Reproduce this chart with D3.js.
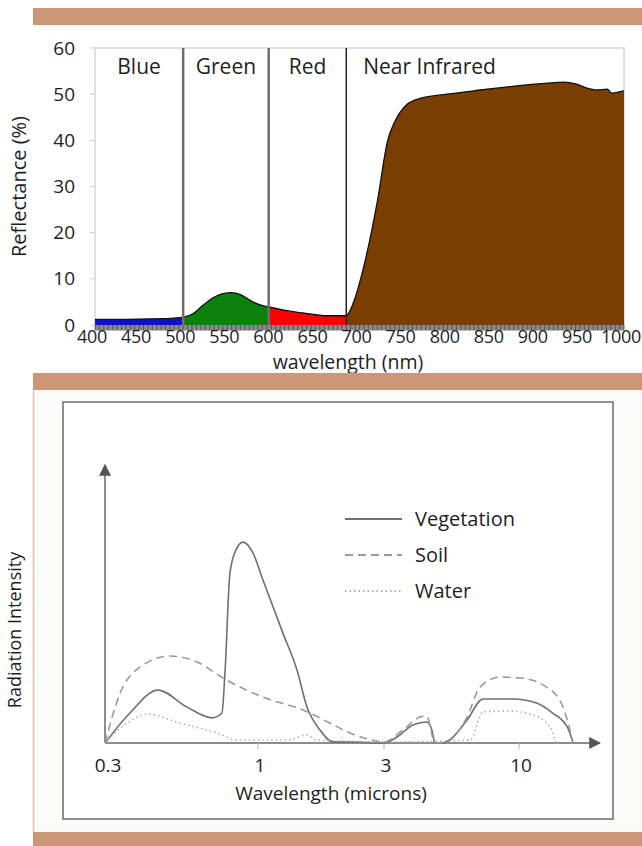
<!DOCTYPE html>
<html><head><meta charset="utf-8">
<script src="https://cdn.jsdelivr.net/npm/d3@7"></script>
<style>html,body{margin:0;padding:0;background:#fff;}svg{display:block;}</style>
</head><body>
<script>
// ---------- DATA ----------
// Top chart: vegetation reflectance spectrum [wavelength nm, reflectance %]
const spectrum = [
  [400,1.2],[430,1.2],[460,1.3],[490,1.5],[500,1.7],
  [511,2.4],[522,4.2],[534,5.9],[545,6.8],[555,7.0],[565,6.6],[579,5.0],[590,4.2],[597,3.9],
  [621,3.0],[636,2.6],[663,2.0],[685,2.0],
  [693,4.8],[704,12],[720,26.5],[732,40],[740,44],[754,47.8],[769,49.1],[799,50],
  [837,50.9],[874,51.7],[913,52.4],[931,52.6],[946,52.2],[958,51.3],[969,50.9],
  [981,51.1],[986,50.2],[992,50.4],[1000,50.7]
];
const bandNames = ["Blue","Green","Red","Near Infrared"];
const bandEdges = [400,500,597,685,1000];
const bandColors = ["#1010c8","#0b800b","#ff0000","#7a3e00"];
const yTicksTop = [0,10,20,30,40,50,60];
const xTicksTop = [400,450,500,550,600,650,700,750,800,850,900,950,1000];

// Bottom chart: radiation intensity [wavelength microns, relative intensity]
const vegetation = [
  [0.3,0],[0.365,11.1],[0.455,19.6],[0.572,13.3],[0.697,9.3],[0.753,11.1],[0.771,25.9],
  [0.802,63],[0.841,71.5],[0.889,74.4],[0.961,70.4],[1.044,60.4],[1.243,40.7],[1.405,27],
  [1.533,13.3],[1.717,4.8],[1.923,0.4],[2.23,0.4],[3.0,0],[3.37,2.2],[3.88,6.7],[4.40,7.8],
  [4.60,4.8],[4.73,0],[5.03,0],[5.55,2.2],[6.29,8.5],[7.26,16.3],[9.48,16.3],[11.7,14.8],
  [13.5,11.1],[15.4,5.9],[16.2,0]
];
const soil = [
  [0.3,0],[0.338,18.5],[0.395,28.1],[0.5,32.2],[0.619,30],[0.759,24.1],[1.044,17],
  [1.48,12.2],[1.87,7.4],[2.23,3.7],[2.6,1.5],[3.0,0.4],[3.55,4.8],[4.14,9.6],[4.39,10],
  [4.73,0],[5.1,0],[6.29,9.6],[7.06,20.7],[8.44,24.4],[10.1,24.1],[12.8,20.7],[14.8,13.3],[16.2,0]
];
const water = [
  [0.3,0],[0.357,7.4],[0.421,10.7],[0.541,7.4],[0.724,3.7],[0.848,1.1],[1.3,1.1],
  [1.53,3],[1.67,1.1],[3.0,0.4],[6.46,1.1],[7.26,11.5],[8.99,11.9],[11.3,10.4],[13.2,5.9],[13.9,0]
];
const seriesNames = ["Vegetation","Soil","Water"];
const xTicksBottom = [0.3,1,3,10];

// ---------- DRAW ----------
const W = 642, H = 846;
const svg = d3.select("body").append("svg").attr("width",W).attr("height",H);
const FONT = "'Open Sans', 'DejaVu Sans', sans-serif";
const TXT = "#1e1e1e";
const barColor = "#cc9677";

// top brown bar
svg.append("rect").attr("x",33).attr("y",8).attr("width",W-33).attr("height",17).attr("fill",barColor);

// ---- top chart ----
const x1 = d3.scaleLinear().domain([400,1000]).range([95,624]);
const y1 = d3.scaleLinear().domain([0,60]).range([325,48]);

svg.append("rect").attr("x",x1(400)).attr("y",y1(60)).attr("width",x1(1000)-x1(400))
  .attr("height",y1(0)-y1(60)).attr("fill","none").attr("stroke","#d8d8d8").attr("stroke-width",1.5);

yTicksTop.forEach(t=>{
  svg.append("line").attr("x1",x1(400)-5).attr("x2",x1(400)).attr("y1",y1(t)).attr("y2",y1(t))
    .attr("stroke","#ccc");
  svg.append("text").attr("x",x1(400)-20).attr("y",y1(t)).attr("dy","0.35em").attr("text-anchor","end")
    .attr("font-family",FONT).attr("font-size",19).attr("fill",TXT).text(t);
});

const area1 = d3.area().x(d=>x1(d[0])).y0(y1(0)).y1(d=>y1(d[1])).curve(d3.curveMonotoneX);
for(let i=0;i<4;i++){
  const pts = spectrum.filter(d=>d[0]>=bandEdges[i] && d[0]<=bandEdges[i+1]);
  svg.append("path").datum(pts).attr("d",area1).attr("fill",bandColors[i]);
}
svg.append("path").datum(spectrum)
  .attr("d",d3.line().x(d=>x1(d[0])).y(d=>y1(d[1])).curve(d3.curveMonotoneX))
  .attr("fill","none").attr("stroke","#111").attr("stroke-width",1.3);

[1,2,3].forEach(i=>{
  svg.append("line").attr("x1",x1(bandEdges[i])).attr("x2",x1(bandEdges[i]))
    .attr("y1",y1(60)).attr("y2",y1(0))
    .attr("stroke", i===3 ? "#222" : "#6e6e6e").attr("stroke-width", i===3 ? 1.5 : 2.5);
});

bandNames.forEach((n,i)=>{
  const last = i===3;
  svg.append("text")
    .attr("x", last ? x1(bandEdges[i])+17 : x1((bandEdges[i]+bandEdges[i+1])/2))
    .attr("y", 74).attr("text-anchor", last ? "start" : "middle")
    .attr("font-family",FONT).attr("font-size",21).attr("fill",TXT).text(n);
});

svg.append("rect").attr("x",x1(400)).attr("y",y1(0)).attr("width",x1(1000)-x1(400)).attr("height",5)
  .attr("fill","#8a8a8a");
d3.range(400,1001,5).forEach(v=>{
  svg.append("line").attr("x1",x1(v)).attr("x2",x1(v)).attr("y1",y1(0)).attr("y2",y1(0)+5)
    .attr("stroke","#444").attr("stroke-width",0.8);
});
svg.append("line").attr("x1",x1(400)).attr("x2",x1(1000)).attr("y1",y1(0)+5.5).attr("y2",y1(0)+5.5)
  .attr("stroke","#bbb").attr("stroke-width",1);

xTicksTop.forEach(t=>{
  svg.append("text").attr("x",x1(t)-3).attr("y",343).attr("text-anchor","middle")
    .attr("font-family",FONT).attr("font-size",18).attr("letter-spacing","-0.3").attr("fill",TXT).text(t);
});
svg.append("text").attr("x",x1(687)).attr("y",369).attr("text-anchor","middle")
  .attr("font-family",FONT).attr("font-size",19.5).attr("fill",TXT).text("wavelength (nm)");
svg.append("text").attr("transform",`translate(26,${(y1(0)+y1(60))/2}) rotate(-90)`)
  .attr("text-anchor","middle").attr("font-family",FONT).attr("font-size",20).attr("fill",TXT)
  .text("Reflectance (%)");

// ---- bottom panel ----
const b2top = 373, b2bot = 390;
svg.append("rect").attr("x",33).attr("y",b2bot).attr("width",W-33).attr("height",832-b2bot).attr("fill","#fbfbfa");
svg.append("rect").attr("x",33).attr("y",b2top).attr("width",W-33).attr("height",b2bot-b2top).attr("fill",barColor);
svg.append("rect").attr("x",33).attr("y",832).attr("width",W-33).attr("height",14).attr("fill",barColor);
svg.append("line").attr("x1",33.5).attr("x2",33.5).attr("y1",b2bot).attr("y2",832).attr("stroke","#e2bfa8").attr("stroke-width",1.5);
svg.append("line").attr("x1",640).attr("x2",640).attr("y1",b2bot).attr("y2",832).attr("stroke","#eee").attr("stroke-width",1);
svg.append("rect").attr("x",63).attr("y",402).attr("width",550).attr("height",417)
  .attr("fill","#fff").attr("stroke","#8f8f8f").attr("stroke-width",2);

const x2 = d3.scaleLinear().domain([Math.log10(0.3),0,Math.log10(3),1]).range([105,258,384,519]);
const X2 = v => x2(Math.log10(v));
const y2 = d3.scaleLinear().domain([0,100]).range([743,473]);

const defs = svg.append("defs");
defs.append("marker").attr("id","arr").attr("viewBox","0 0 10 10").attr("refX",9).attr("refY",5)
  .attr("markerWidth",8).attr("markerHeight",8).attr("orient","auto-start-reverse")
  .append("path").attr("d","M0,0 L10,5 L0,10 Z").attr("fill","#555");

svg.append("line").attr("x1",X2(0.3)).attr("x2",X2(0.3)).attr("y1",y2(0)).attr("y2",465)
  .attr("stroke","#666").attr("stroke-width",1.5).attr("marker-end","url(#arr)");
svg.append("line").attr("x1",X2(0.3)).attr("x2",600).attr("y1",y2(0)).attr("y2",y2(0))
  .attr("stroke","#666").attr("stroke-width",1.5).attr("marker-end","url(#arr)");

xTicksBottom.forEach(t=>{
  if(t!==0.3) svg.append("line").attr("x1",X2(t)).attr("x2",X2(t)).attr("y1",y2(0)).attr("y2",y2(0)+6)
    .attr("stroke","#bbb").attr("stroke-width",1.2);
  svg.append("text").attr("x",X2(t)+(t===0.3?3:2)).attr("y",772).attr("text-anchor","middle")
    .attr("font-family",FONT).attr("font-size",19).attr("fill",TXT).text(t);
});
svg.append("text").attr("x",331).attr("y",800).attr("text-anchor","middle")
  .attr("font-family",FONT).attr("font-size",19).attr("fill",TXT).text("Wavelength (microns)");
svg.append("text").attr("transform",`translate(21,630) rotate(-90)`).attr("text-anchor","middle")
  .attr("font-family",FONT).attr("font-size",18).attr("fill",TXT).text("Radiation Intensity");

const line2 = d3.line().x(d=>X2(d[0])).y(d=>y2(d[1])).curve(d3.curveMonotoneX);
const styles = [
  {data:vegetation, stroke:"#707070", w:1.6, dash:null},
  {data:soil, stroke:"#9a9a9a", w:1.6, dash:"8,5"},
  {data:water, stroke:"#b0b0b0", w:1.6, dash:"1.5,3"}
];
styles.forEach(s=>{
  svg.append("path").datum(s.data).attr("d",line2).attr("fill","none").attr("stroke",s.stroke)
    .attr("stroke-width",s.w).attr("stroke-dasharray",s.dash);
});

seriesNames.forEach((n,i)=>{
  const yy = 519 + i*36;
  svg.append("line").attr("x1",345).attr("x2",402).attr("y1",yy).attr("y2",yy)
    .attr("stroke",styles[i].stroke).attr("stroke-width",1.8).attr("stroke-dasharray",styles[i].dash);
  svg.append("text").attr("x",415).attr("y",yy).attr("dy","0.35em").attr("font-family",FONT)
    .attr("font-size",20).attr("fill",TXT).text(n);
});
</script>
</body></html>
